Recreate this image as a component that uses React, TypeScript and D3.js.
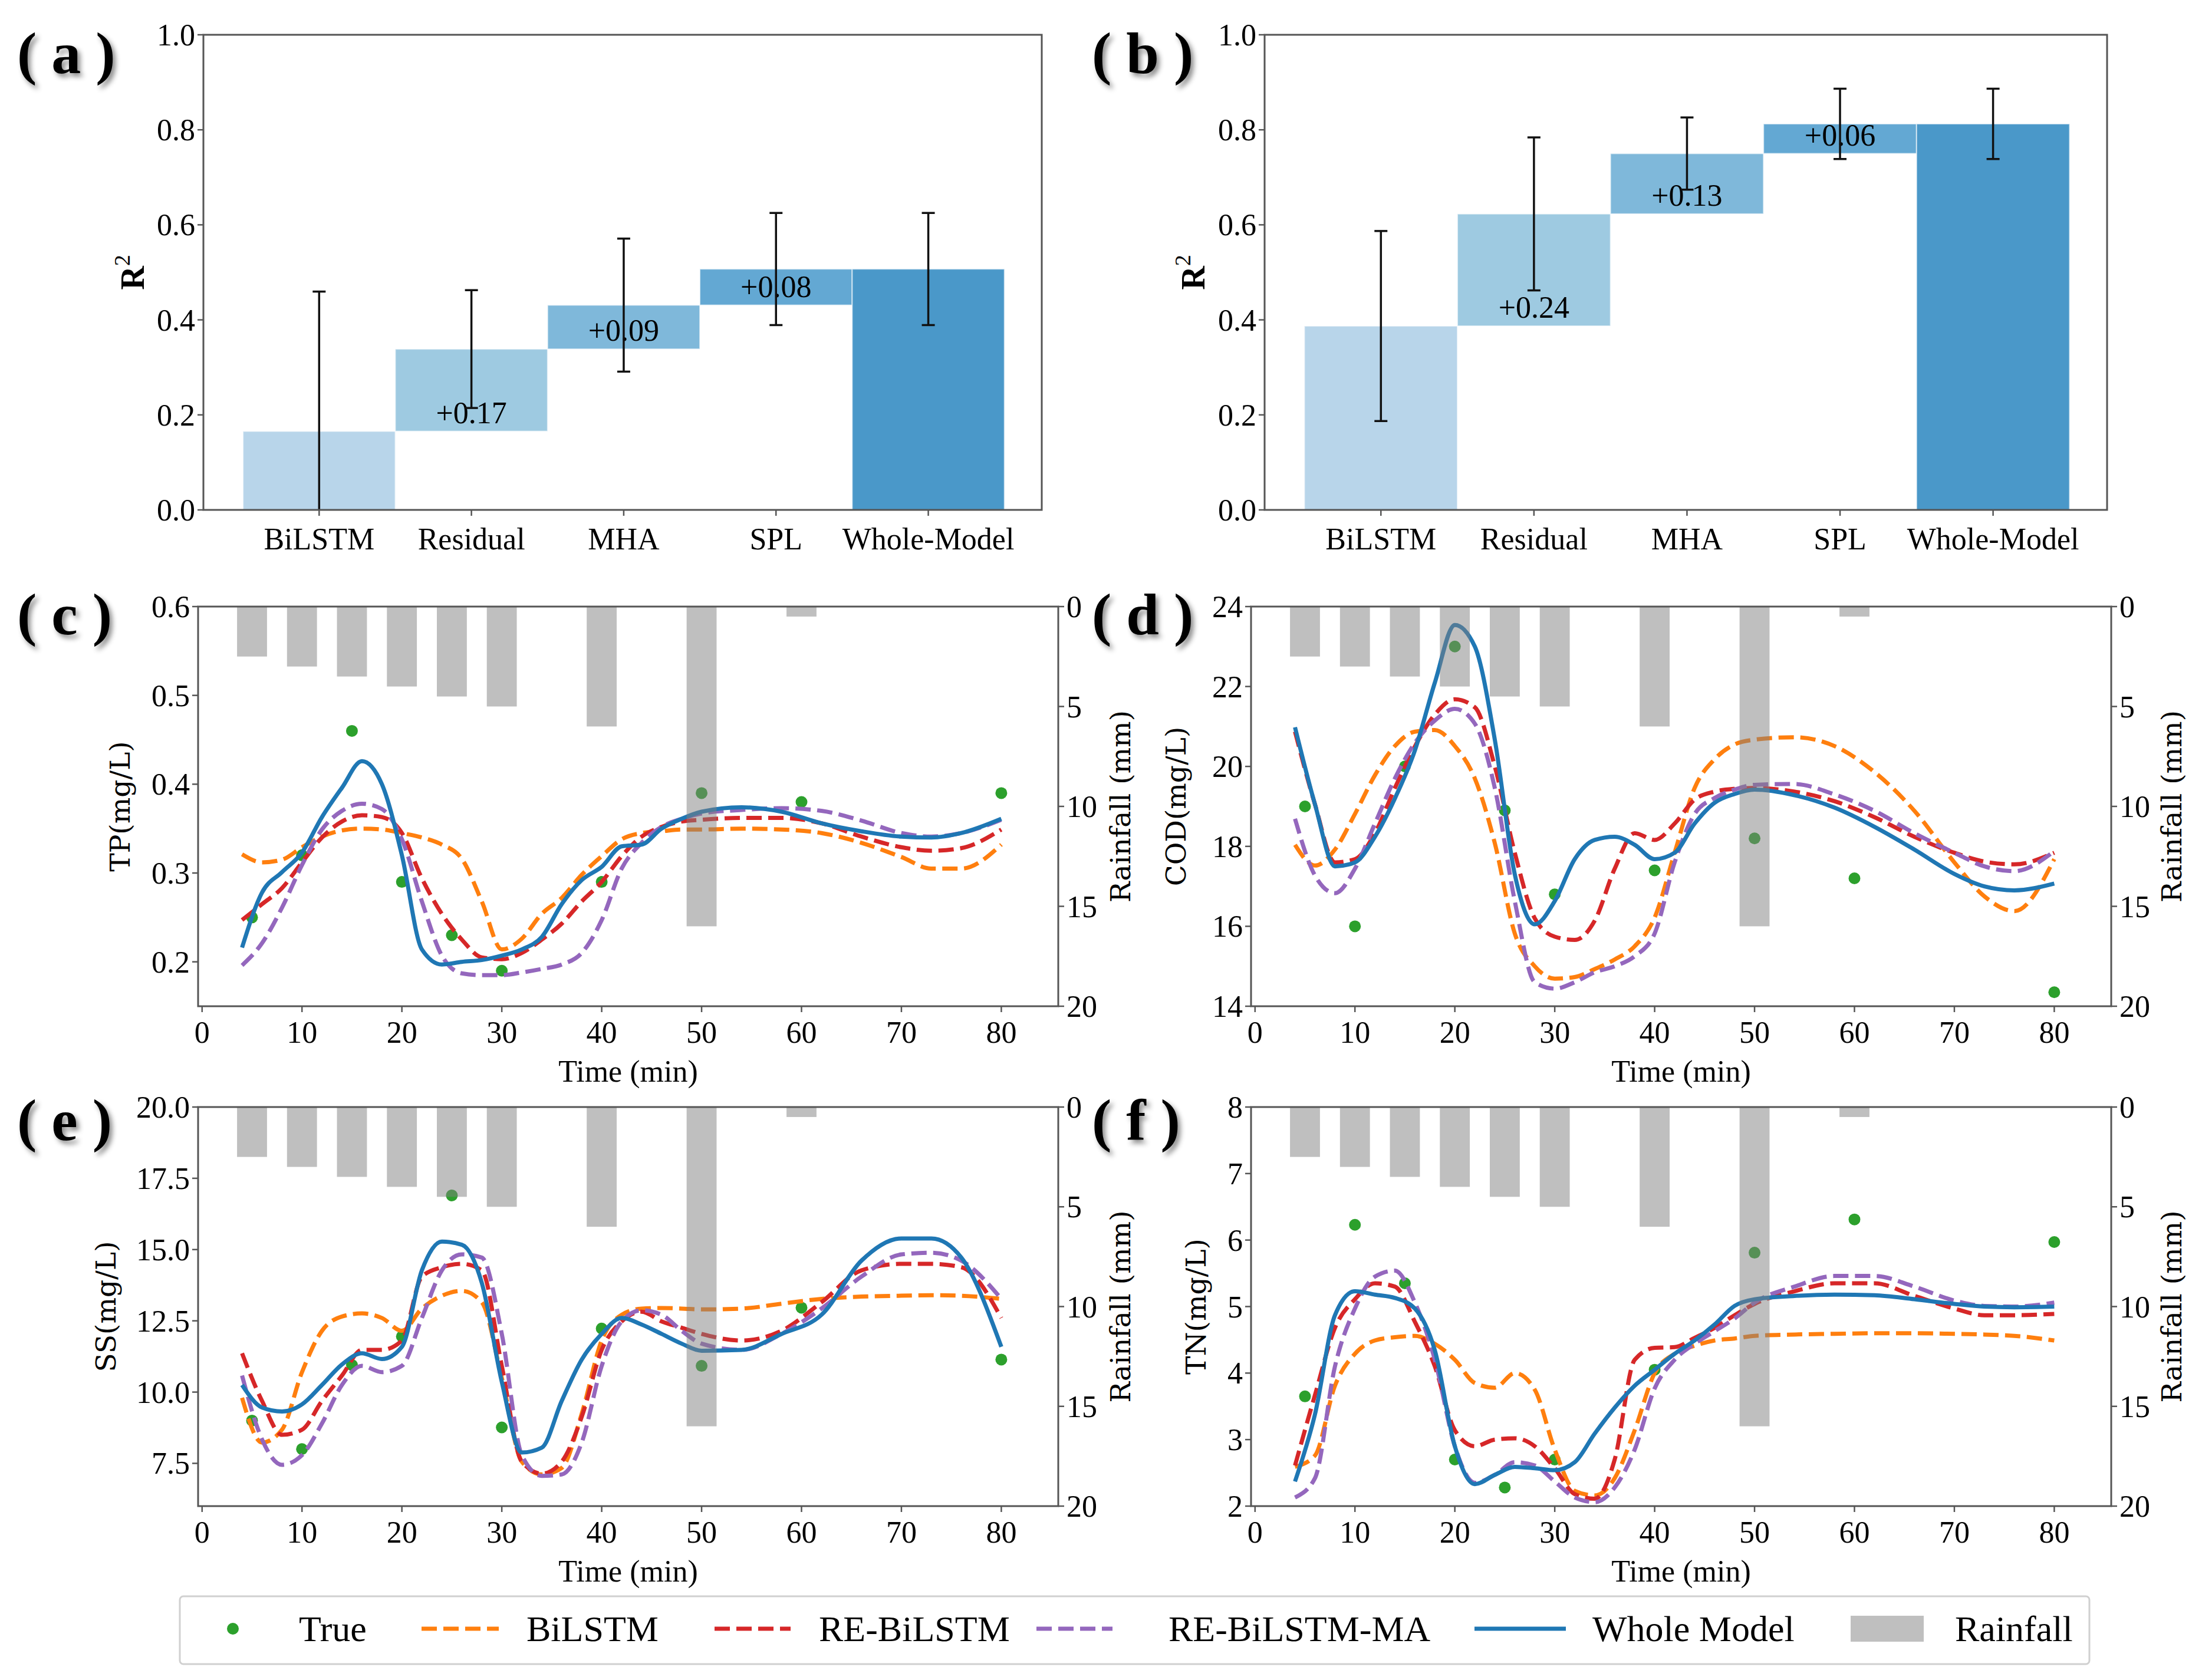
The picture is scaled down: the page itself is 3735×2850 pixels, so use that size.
import { useEffect } from "react";
import * as d3 from "d3";

const W = 3735;
const H = 2850;

// ---------- (a)/(b) ablation bars ----------
const stages = ["BiLSTM", "Residual", "MHA", "SPL", "Whole-Model"];
// cumulative R² after BiLSTM, +Residual, +MHA, +SPL
const r2TP = [0.1655, 0.3385, 0.431, 0.507];
const errTP = [0.294, 0.124, 0.14, 0.118, 0.118];
const r2COD = [0.387, 0.623, 0.75, 0.8125];
const errCOD = [0.2, 0.161, 0.076, 0.074, 0.074];
const stageColors = ["#b8d5ea", "#9ecae1", "#7fb8da", "#63a8d3", "#4a98c9"];
const r2Ticks = [0, 0.2, 0.4, 0.6, 0.8, 1.0];

// ---------- (c)-(f) time series ----------
const timeGrid = [4, 6, 8, 10, 12, 14, 16, 18, 20, 22, 24, 26, 28, 30, 32, 34, 36, 38, 40, 42, 44, 46, 48, 50, 54, 58, 62, 66, 70, 73, 76, 80];
const sampleTimes = [5, 10, 15, 20, 25, 30, 40, 50, 60, 80];
const rainTimes = [5, 10, 15, 20, 25, 30, 40, 50, 60];
const rainfall = [2.5, 3, 3.5, 4, 4.5, 5, 6, 16, 0.5];
const timeTicks = [0, 10, 20, 30, 40, 50, 60, 70, 80];
const rainTicks = [0, 5, 10, 15, 20];

const tpTrue = [0.25, 0.32, 0.46, 0.29, 0.23, 0.19, 0.29, 0.39, 0.38, 0.39];
const tpBiLSTM = [0.321, 0.312, 0.315, 0.329, 0.341, 0.348, 0.35, 0.349, 0.345, 0.34, 0.332, 0.316, 0.268, 0.214, 0.226, 0.254, 0.272, 0.298, 0.319, 0.338, 0.345, 0.347, 0.349, 0.349, 0.35, 0.349, 0.345, 0.334, 0.318, 0.305, 0.305, 0.332];
const tpRe = [0.247, 0.265, 0.283, 0.312, 0.34, 0.358, 0.365, 0.363, 0.345, 0.294, 0.254, 0.225, 0.205, 0.203, 0.21, 0.225, 0.243, 0.268, 0.29, 0.319, 0.341, 0.352, 0.358, 0.36, 0.362, 0.362, 0.356, 0.341, 0.329, 0.325, 0.328, 0.349];
const tpMa = [0.196, 0.221, 0.261, 0.309, 0.349, 0.37, 0.378, 0.372, 0.338, 0.268, 0.207, 0.187, 0.185, 0.185, 0.188, 0.192, 0.197, 0.21, 0.247, 0.305, 0.334, 0.352, 0.361, 0.367, 0.371, 0.373, 0.37, 0.359, 0.345, 0.341, 0.345, 0.36];
const tpWhole = [0.216, 0.278, 0.301, 0.323, 0.363, 0.396, 0.426, 0.4, 0.32, 0.214, 0.197, 0.2, 0.202, 0.207, 0.214, 0.228, 0.265, 0.292, 0.307, 0.33, 0.332, 0.35, 0.361, 0.369, 0.374, 0.369, 0.356, 0.347, 0.341, 0.34, 0.345, 0.361];

const codTrue = [19.0, 16.0, 20.0, 23.0, 18.9, 16.8, 17.4, 18.2, 17.2, 14.35];
const codBiLSTM = [18.04, 17.52, 17.92, 18.81, 19.78, 20.51, 20.87, 20.91, 20.51, 19.7, 18.08, 15.82, 15.0, 14.69, 14.73, 14.93, 15.17, 15.5, 16.22, 17.84, 19.46, 20.18, 20.55, 20.67, 20.73, 20.51, 19.86, 18.89, 17.6, 16.75, 16.38, 17.68];
const codRe = [20.87, 19.05, 17.6, 17.68, 18.33, 19.46, 20.5, 21.3, 21.68, 21.48, 20.0, 17.84, 16.2, 15.74, 15.66, 16.14, 17.44, 18.33, 18.16, 18.57, 19.17, 19.37, 19.44, 19.46, 19.37, 19.13, 18.73, 18.24, 17.84, 17.62, 17.55, 17.84];
const codMa = [18.69, 17.27, 16.83, 17.44, 18.57, 19.7, 20.59, 21.15, 21.44, 21.07, 19.46, 16.63, 14.6, 14.44, 14.6, 14.85, 15.0, 15.25, 15.82, 17.6, 18.81, 19.21, 19.42, 19.54, 19.56, 19.3, 18.89, 18.33, 17.84, 17.5, 17.38, 17.88];
const codWhole = [20.98, 19.05, 17.5, 17.6, 18.24, 19.2, 20.4, 22.1, 23.54, 23.0, 20.67, 17.3, 16.05, 16.63, 17.68, 18.16, 18.24, 18.04, 17.68, 17.84, 18.57, 19.09, 19.31, 19.42, 19.28, 18.97, 18.49, 17.92, 17.31, 17.0, 16.9, 17.07];

const ssTrue = [9.0, 8.0, 10.95, 11.95, 16.9, 8.76, 12.23, 10.92, 12.96, 11.14];
const ssBiLSTM = [9.8, 8.23, 8.68, 10.7, 12.15, 12.65, 12.76, 12.6, 12.15, 12.93, 13.38, 13.55, 13.15, 10.5, 7.56, 7.11, 7.34, 9.24, 11.81, 12.71, 12.93, 12.95, 12.93, 12.9, 12.93, 13.1, 13.27, 13.35, 13.38, 13.4, 13.38, 13.27];
const ssRe = [11.36, 9.69, 8.5, 8.68, 9.69, 10.58, 11.48, 11.48, 11.81, 14.05, 14.38, 14.5, 14.27, 10.92, 7.56, 7.14, 7.56, 9.13, 11.48, 12.48, 12.82, 12.48, 12.26, 12.04, 11.81, 12.15, 13.15, 14.27, 14.5, 14.5, 14.38, 12.6];
const ssMa = [10.58, 8.34, 7.45, 7.79, 8.9, 10.25, 10.92, 10.7, 10.92, 12.6, 14.27, 14.83, 14.72, 12.04, 7.79, 7.06, 7.11, 8.23, 10.92, 12.48, 12.87, 12.71, 12.15, 11.7, 11.48, 12.04, 12.93, 14.05, 14.83, 14.89, 14.61, 13.27];
const ssWhole = [10.25, 9.46, 9.32, 9.57, 10.25, 10.97, 11.36, 11.16, 11.59, 14.27, 15.28, 15.17, 13.83, 10.36, 7.88, 8.05, 9.69, 11.14, 12.04, 12.6, 12.37, 12.04, 11.7, 11.45, 11.48, 12.04, 12.71, 14.61, 15.39, 15.39, 14.72, 11.59];

const tnTrue = [3.65, 6.23, 5.35, 2.7, 2.28, 2.7, 4.05, 5.81, 6.31, 5.97];
const tnBiLSTM = [2.59, 2.76, 3.81, 4.29, 4.49, 4.54, 4.56, 4.44, 4.2, 3.85, 3.78, 4.0, 3.75, 2.85, 2.23, 2.16, 2.42, 3.14, 4.0, 4.29, 4.41, 4.49, 4.52, 4.56, 4.58, 4.59, 4.6, 4.6, 4.59, 4.58, 4.56, 4.49];
const tnRe = [2.61, 3.67, 4.68, 5.11, 5.35, 5.3, 4.77, 4.1, 3.14, 2.9, 3.0, 3.02, 2.9, 2.57, 2.18, 2.11, 2.7, 4.2, 4.38, 4.39, 4.53, 4.68, 4.87, 5.04, 5.23, 5.35, 5.35, 5.16, 4.97, 4.87, 4.87, 4.89];
const tnMa = [2.13, 2.42, 4.1, 4.97, 5.45, 5.54, 5.06, 4.2, 2.9, 2.35, 2.47, 2.66, 2.61, 2.37, 2.13, 2.06, 2.28, 2.85, 3.77, 4.2, 4.44, 4.63, 4.82, 5.06, 5.3, 5.46, 5.46, 5.3, 5.09, 5.01, 5.0, 5.06];
const tnWhole = [2.37, 3.38, 4.87, 5.23, 5.18, 5.13, 4.97, 4.34, 2.9, 2.33, 2.47, 2.59, 2.57, 2.54, 2.66, 3.09, 3.48, 3.81, 4.05, 4.29, 4.49, 4.73, 5.01, 5.11, 5.16, 5.18, 5.17, 5.11, 5.04, 5.0, 4.99, 5.0];

const modelNames = ["BiLSTM", "RE-BiLSTM", "RE-BiLSTM-MA", "Whole Model"];
const modelColors = ["#ff7f0e", "#d62728", "#9467bd", "#1f77b4"];
const trueColor = "#2ca02c";

const SERIF = "'Liberation Serif', 'Times New Roman', serif";
const DJV = "'DejaVu Serif', serif";
const SPINE = "#555";
const TICK_FS = 52;

type Box = { left: number; right: number; top: number; bottom: number };

function PanelTag({ x, y, t }: { x: number; y: number; t: string }) {
  return (
    <text x={x} y={y} fontFamily={SERIF} fontWeight="bold" fontSize={100} filter="url(#tagShadow)">
      {`( ${t} )`}
    </text>
  );
}

function BarPanel({ box, cum, err, tag, labelX }: { box: Box; cum: number[]; err: number[]; tag: string; labelX: number }) {
  const x = d3.scaleLinear().domain([-0.76, 4.745]).range([box.left, box.right]);
  const y = d3.scaleLinear().domain([0, 1]).range([box.bottom, box.top]);
  const bottoms = [0, cum[0], cum[1], cum[2], 0];
  const tops = [cum[0], cum[1], cum[2], cum[3], cum[3]];
  const half = (x(1) - x(0)) / 2;
  const clipId = `clip-${tag}`;
  return (
    <g>
      <clipPath id={clipId}>
        <rect x={box.left} y={box.top} width={box.right - box.left} height={box.bottom - box.top} />
      </clipPath>
      {stages.map((s, i) => (
        <rect key={s} x={x(i) - half} width={half * 2} y={y(tops[i])} height={y(bottoms[i]) - y(tops[i])}
          fill={stageColors[i]} stroke="#ffffff" strokeOpacity={0.6} strokeWidth={2} />
      ))}
      {[1, 2, 3].map((i) => (
        <text key={i} x={x(i)} y={y(bottoms[i]) - 14} textAnchor="middle" fontFamily={SERIF} fontSize={TICK_FS}>
          {`+${(tops[i] - bottoms[i]).toFixed(2)}`}
        </text>
      ))}
      <g clipPath={`url(#${clipId})`}>
        {stages.map((s, i) => {
          const lo = y(tops[i] - err[i]);
          const hi = y(tops[i] + err[i]);
          const cx = x(i);
          return (
            <g key={s} stroke="#111" strokeWidth={3.5}>
              <line x1={cx} x2={cx} y1={lo} y2={hi} />
              <line x1={cx - 11} x2={cx + 11} y1={lo} y2={lo} />
              <line x1={cx - 11} x2={cx + 11} y1={hi} y2={hi} />
            </g>
          );
        })}
      </g>
      <rect x={box.left} y={box.top} width={box.right - box.left} height={box.bottom - box.top}
        fill="none" stroke={SPINE} strokeWidth={3} />
      {r2Ticks.map((t) => (
        <g key={t}>
          <line x1={box.left - 10} x2={box.left} y1={y(t)} y2={y(t)} stroke={SPINE} strokeWidth={2.5} />
          <text x={box.left - 14} y={y(t) + 18} textAnchor="end" fontFamily={SERIF} fontSize={TICK_FS}>
            {t.toFixed(1)}
          </text>
        </g>
      ))}
      {stages.map((s, i) => (
        <g key={s}>
          <line x1={x(i)} x2={x(i)} y1={box.bottom} y2={box.bottom + 10} stroke={SPINE} strokeWidth={2.5} />
          <text x={x(i)} y={box.bottom + 67} textAnchor="middle" fontFamily={SERIF} fontSize={TICK_FS}>
            {s}
          </text>
        </g>
      ))}
      <text transform={`translate(${labelX},${(box.top + box.bottom) / 2}) rotate(-90)`} textAnchor="middle"
        fontFamily={SERIF} fontWeight="bold" fontSize={56}>
        R<tspan fontSize={38} fontWeight="normal" dy={-24}>2</tspan>
      </text>
    </g>
  );
}

type SeriesPanelProps = {
  box: Box;
  tag: string;
  yLabel: string;
  yLabelX: number;
  rainLabelX: number;
  domain: [number, number];
  ticks: number[];
  fmt: (v: number) => string;
  truth: number[];
  models: number[][];
};

function SeriesPanel({ box, tag, yLabel, yLabelX, rainLabelX, domain, ticks, fmt, truth, models }: SeriesPanelProps) {
  const x = d3.scaleLinear().domain([-0.4, 85.7]).range([box.left, box.right]);
  const y = d3.scaleLinear().domain(domain).range([box.bottom, box.top]);
  const yr = d3.scaleLinear().domain([0, 20]).range([box.top, box.bottom]);
  const clipId = `clip-${tag}`;
  const barW = x(3) - x(0);
  return (
    <g>
      <clipPath id={clipId}>
        <rect x={box.left} y={box.top} width={box.right - box.left} height={box.bottom - box.top} />
      </clipPath>
      <g clipPath={`url(#${clipId})`}>
        {truth.map((v, i) => (
          <circle key={i} cx={x(sampleTimes[i])} cy={y(v)} r={10} fill={trueColor} />
        ))}
        {models.map((vals, m) => {
          const line = d3.line<number>()
            .x((_, i) => x(timeGrid[i]))
            .y((d) => y(d))
            .curve(d3.curveMonotoneX);
          return (
            <path key={m} d={line(vals) || ""} fill="none" stroke={modelColors[m]} strokeWidth={7}
              strokeDasharray={m < 3 ? "26 11" : undefined} strokeLinecap="butt" strokeLinejoin="round" />
          );
        })}
        {rainfall.map((r, i) => (
          <rect key={i} x={x(rainTimes[i]) - barW / 2} width={barW} y={yr(0)} height={yr(r) - yr(0)}
            fill="#7f7f7f" fillOpacity={0.5} />
        ))}
      </g>
      <rect x={box.left} y={box.top} width={box.right - box.left} height={box.bottom - box.top}
        fill="none" stroke={SPINE} strokeWidth={3} />
      {ticks.map((t) => (
        <g key={t}>
          <line x1={box.left - 10} x2={box.left} y1={y(t)} y2={y(t)} stroke={SPINE} strokeWidth={2.5} />
          <text x={box.left - 14} y={y(t) + 18} textAnchor="end" fontFamily={SERIF} fontSize={TICK_FS}>
            {fmt(t)}
          </text>
        </g>
      ))}
      {rainTicks.map((t) => (
        <g key={t}>
          <line x1={box.right} x2={box.right + 10} y1={yr(t)} y2={yr(t)} stroke={SPINE} strokeWidth={2.5} />
          <text x={box.right + 14} y={yr(t) + 18} textAnchor="start" fontFamily={SERIF} fontSize={TICK_FS}>
            {t}
          </text>
        </g>
      ))}
      {timeTicks.map((t) => (
        <g key={t}>
          <line x1={x(t)} x2={x(t)} y1={box.bottom} y2={box.bottom + 10} stroke={SPINE} strokeWidth={2.5} />
          <text x={x(t)} y={box.bottom + 62} textAnchor="middle" fontFamily={SERIF} fontSize={TICK_FS}>
            {t}
          </text>
        </g>
      ))}
      <text x={(box.left + box.right) / 2} y={box.bottom + 128} textAnchor="middle" fontFamily={SERIF} fontSize={TICK_FS}>
        Time (min)
      </text>
      <text transform={`translate(${yLabelX},${(box.top + box.bottom) / 2}) rotate(-90)`} textAnchor="middle"
        dominantBaseline="central" fontFamily={DJV} fontSize={47}>
        {yLabel}
      </text>
      <text transform={`translate(${rainLabelX},${(box.top + box.bottom) / 2}) rotate(-90)`} textAnchor="middle"
        dominantBaseline="central" fontFamily={DJV} fontSize={47}>
        Rainfall (mm)
      </text>
    </g>
  );
}

function Legend() {
  const cy = 2763;
  const lineItems = [
    { x0: 715, x1: 846, tx: 893 },
    { x0: 1212, x1: 1341, tx: 1389 },
    { x0: 1758, x1: 1887, tx: 1982 },
    { x0: 2501, x1: 2656, tx: 2701 },
  ];
  return (
    <g>
      <rect x={305} y={2708} width={3544 - 305} height={2823 - 2708} rx={6} fill="#fff" stroke="#d0d0d0" strokeWidth={3} />
      <circle cx={395} cy={cy} r={10} fill={trueColor} />
      <text x={507} y={cy + 21} fontFamily={SERIF} fontSize={62}>True</text>
      {lineItems.map((it, m) => (
        <g key={m}>
          <line x1={it.x0} x2={it.x1} y1={cy} y2={cy} stroke={modelColors[m]} strokeWidth={7}
            strokeDasharray={m < 3 ? "26 11" : undefined} />
          <text x={it.tx} y={cy + 21} fontFamily={SERIF} fontSize={62}>{modelNames[m]}</text>
        </g>
      ))}
      <rect x={3139} y={cy - 22} width={124} height={44} fill="#7f7f7f" fillOpacity={0.5} />
      <text x={3316} y={cy + 21} fontFamily={SERIF} fontSize={62}>Rainfall</text>
    </g>
  );
}

export default function App() {
  useEffect(() => {
    document.body.style.margin = "0";
  }, []);

  const f1 = d3.format(".1f");
  const f0 = (v: number) => String(v);

  return (
    <svg width={W} height={H} viewBox={`0 0 ${W} ${H}`} style={{ display: "block", background: "#fff" }}>
      <defs>
        <filter id="tagShadow" x="-20%" y="-30%" width="150%" height="170%">
          <feDropShadow dx={5} dy={6} stdDeviation={4} floodColor="#000" floodOpacity={0.45} />
        </filter>
      </defs>
      <rect width={W} height={H} fill="#fff" />

      <BarPanel box={{ left: 345, right: 1767, top: 59, bottom: 865 }} cum={r2TP} err={errTP} tag="a" labelX={244} />
      <BarPanel box={{ left: 2145, right: 3574, top: 59, bottom: 865 }} cum={r2COD} err={errCOD} tag="b" labelX={2043} />

      <SeriesPanel box={{ left: 336, right: 1795, top: 1029, bottom: 1707 }} tag="c" yLabel="TP(mg/L)" yLabelX={203}
        rainLabelX={1900} domain={[0.15, 0.6]} ticks={[0.2, 0.3, 0.4, 0.5, 0.6]} fmt={f1}
        truth={tpTrue} models={[tpBiLSTM, tpRe, tpMa, tpWhole]} />
      <SeriesPanel box={{ left: 2122, right: 3581, top: 1029, bottom: 1707 }} tag="d" yLabel="COD(mg/L)" yLabelX={1994}
        rainLabelX={3683} domain={[14, 24]} ticks={[14, 16, 18, 20, 22, 24]} fmt={f0}
        truth={codTrue} models={[codBiLSTM, codRe, codMa, codWhole]} />
      <SeriesPanel box={{ left: 336, right: 1795, top: 1878, bottom: 2555 }} tag="e" yLabel="SS(mg/L)" yLabelX={179}
        rainLabelX={1900} domain={[6, 20]} ticks={[7.5, 10, 12.5, 15, 17.5, 20]} fmt={f1}
        truth={ssTrue} models={[ssBiLSTM, ssRe, ssMa, ssWhole]} />
      <SeriesPanel box={{ left: 2122, right: 3581, top: 1878, bottom: 2555 }} tag="f" yLabel="TN(mg/L)" yLabelX={2028}
        rainLabelX={3683} domain={[2, 8]} ticks={[2, 3, 4, 5, 6, 7, 8]} fmt={f0}
        truth={tnTrue} models={[tnBiLSTM, tnRe, tnMa, tnWhole]} />

      <Legend />

      <PanelTag x={29} y={124} t="a" />
      <PanelTag x={1852} y={124} t="b" />
      <PanelTag x={29} y={1076} t="c" />
      <PanelTag x={1852} y={1076} t="d" />
      <PanelTag x={29} y={1934} t="e" />
      <PanelTag x={1852} y={1934} t="f" />
    </svg>
  );
}
